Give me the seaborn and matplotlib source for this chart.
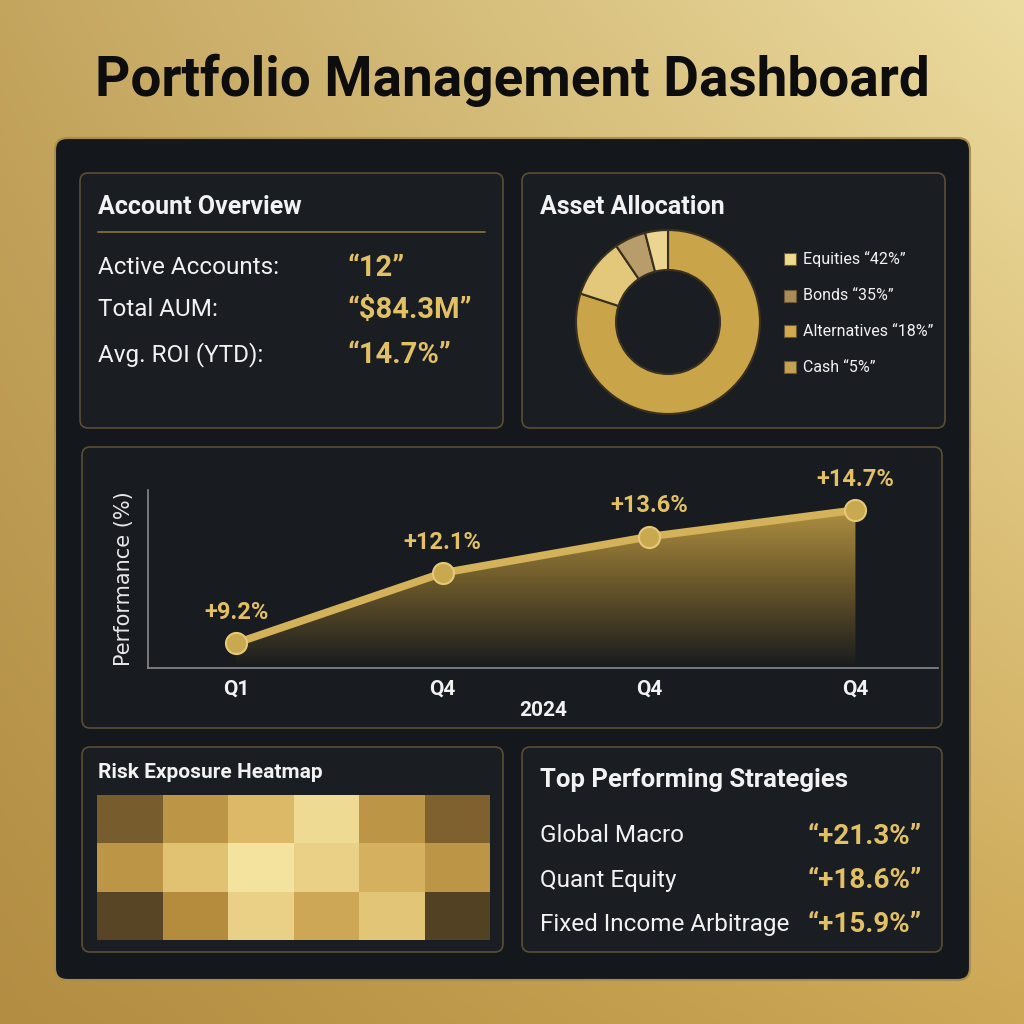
import numpy as np
import pandas as pd
import seaborn as sns
import matplotlib.pyplot as plt
from matplotlib.patches import FancyBboxPatch, Rectangle
from matplotlib.colors import LinearSegmentedColormap

# Daten
quarters = ['Q1', 'Q4', 'Q4', 'Q4']
performance = [9.2, 12.1, 13.6, 14.7]
perf_labels = ['+9.2%', '+12.1%', '+13.6%', '+14.7%']

overview_labels = ['Active Accounts:', 'Total AUM:', 'Avg. ROI (YTD):']
overview_values = ['\u201c12\u201d', '\u201c$84.3M\u201d', '\u201c14.7%\u201d']

alloc_names = ['Equities \u201c42%\u201d', 'Bonds \u201c35%\u201d', 'Alternatives \u201c18%\u201d', 'Cash \u201c5%\u201d']
alloc_colors = ['#f0da8c', '#a98c5c', '#d3aa4f', '#c7a153']
# Ringsegmente wie im Bild (im Uhrzeigersinn ab 12 Uhr)
ring_sizes = [80, 10.5, 5.5, 4]
ring_colors = ['#c9a448', '#e3c77a', '#b89c6a', '#ecd590']

risk = [[0.25, 0.55, 0.75, 0.93, 0.55, 0.28],
        [0.55, 0.80, 0.98, 0.88, 0.70, 0.55],
        [0.12, 0.50, 0.88, 0.65, 0.82, 0.10]]

strategies = ['Global Macro', 'Quant Equity', 'Fixed Income Arbitrage']
strategy_returns = ['\u201c+21.3%\u201d', '\u201c+18.6%\u201d', '\u201c+15.9%\u201d']

sns.set_theme(style='dark')
plt.rcParams['font.family'] = ['Roboto', 'DejaVu Sans']

GOLD = '#e2c064'
WHITE = '#f2f2f2'


def fx(x):
    return x / 1024


def fy(y):
    return 1 - y / 1024


fig = plt.figure(figsize=(10.24, 10.24), dpi=100)

# Goldener Hintergrund
bg = fig.add_axes([0, 0, 1, 1], zorder=-10)
tl = np.array([196, 165, 94]) / 255
tr = np.array([236, 220, 160]) / 255
bl = np.array([178, 141, 66]) / 255
br = np.array([205, 168, 86]) / 255
u = np.linspace(0, 1, 256)
U, V = np.meshgrid(u, u)
img = (tl[None, None] * ((1 - U) * (1 - V))[..., None] + tr[None, None] * (U * (1 - V))[..., None]
       + bl[None, None] * ((1 - U) * V)[..., None] + br[None, None] * (U * V)[..., None])
bg.imshow(img, extent=[0, 1, 0, 1], aspect='auto', origin='upper')
bg.set_xlim(0, 1)
bg.set_ylim(0, 1)
bg.axis('off')

fig.text(0.5, fy(80), 'Portfolio Management Dashboard', ha='center', va='center',
         fontsize=39.5, fontweight='bold', color='#0d0d0d')


def panel(x0, y0, x1, y1, face, edge, lw, rad=0.012):
    p = FancyBboxPatch((fx(x0), fy(y1)), fx(x1 - x0), fx(y1 - y0),
                       boxstyle=f'round,pad=0,rounding_size={rad}',
                       transform=fig.transFigure, facecolor=face, edgecolor=edge,
                       linewidth=lw, zorder=-5)
    fig.patches.append(p)


panel(55, 138, 970, 980, '#14171b', '#a88d4c', 1.5)
panel(80, 173, 503, 428, '#1a1d21', '#5a4e34', 1.2, 0.008)
panel(522, 173, 945, 428, '#1a1d21', '#5a4e34', 1.2, 0.008)
panel(82, 447, 942, 728, '#181b1f', '#5a4e34', 1.2, 0.008)
panel(82, 747, 503, 952, '#1a1d21', '#5a4e34', 1.2, 0.008)
panel(522, 747, 942, 952, '#1a1d21', '#5a4e34', 1.2, 0.008)

# Account Overview
fig.text(fx(98), fy(207), 'Account Overview', fontsize=18, fontweight='bold', color=WHITE, va='center')
fig.lines.append(plt.Line2D([fx(98), fx(485)], [fy(232), fy(232)], transform=fig.transFigure,
                            color='#8c7440', linewidth=1.2))
for i, (lab, val) in enumerate(zip(overview_labels, overview_values)):
    y = [268, 310, 355][i]
    fig.text(fx(98), fy(y), lab, fontsize=17.5, color=WHITE, va='center')
    fig.text(fx(347), fy(y), val, fontsize=21, fontweight='bold', color=GOLD, va='center')

# Asset Allocation
fig.text(fx(540), fy(207), 'Asset Allocation', fontsize=18, fontweight='bold', color=WHITE, va='center')
ax_pie = fig.add_axes([fx(568), fy(422), fx(200), fx(200)])
ax_pie.pie(ring_sizes, colors=ring_colors, startangle=90, counterclock=False, radius=0.92,
           wedgeprops=dict(width=0.40, edgecolor='#3a3020', linewidth=1.5))
ax_pie.set_xlim(-1, 1)
ax_pie.set_ylim(-1, 1)
ax_pie.axis('off')
for i, (name, col) in enumerate(zip(alloc_names, alloc_colors)):
    y = [259, 296, 331, 367][i]
    fig.patches.append(Rectangle((fx(784), fy(y) - fx(6)), fx(12), fx(12), transform=fig.transFigure,
                                 facecolor=col, edgecolor='#6b5a34', linewidth=0.8))
    fig.text(fx(803), fy(y), name, fontsize=11.5, color=WHITE, va='center')

# Performance Linie
ax = fig.add_axes([fx(148), fy(668), fx(938 - 148), fx(668 - 490)])
df = pd.DataFrame({'idx': range(len(performance)), 'perf': performance})
ax.set_facecolor('none')
ymin, ymax = 8.17, 15.53
fill = ax.fill_between(df['idx'], df['perf'], ymin, color='none')
grad = np.linspace(0, 1, 256)[:, None]
cmap_fill = LinearSegmentedColormap.from_list('f', ['#181b1f', '#6e5a2a', '#c09c45'])
gimg = ax.imshow(grad, extent=[0, 3, ymin, 14.7], origin='lower', aspect='auto', cmap=cmap_fill,
                 alpha=0.9, zorder=1)
gimg.set_clip_path(fill.get_paths()[0], transform=ax.transData)
sns.lineplot(data=df, x='idx', y='perf', ax=ax, color='#d4b25a', linewidth=5.5, zorder=3)
ax.scatter(df['idx'], df['perf'], s=230, color='#c9a94f', edgecolor='#e6c876', linewidth=1.5, zorder=4)
for i, (v, lab) in enumerate(zip(performance, perf_labels)):
    ax.annotate(lab, (i, v), xytext=(0, 14), textcoords='offset points', ha='center', va='bottom',
                fontsize=17, fontweight='bold', color=GOLD, clip_on=False, zorder=5)
ax.set_xlim(-0.427, 3.40)
ax.set_ylim(ymin, ymax)
ax.set_xticks(range(len(quarters)))
ax.set_xticklabels(quarters, fontsize=15, fontweight='bold', color=WHITE)
ax.set_yticks([])
ax.tick_params(axis='x', length=0, pad=8)
ax.set_xlabel('2024', fontsize=15, fontweight='bold', color=WHITE, labelpad=2)
ax.set_ylabel('Performance (%)', fontsize=15, color='#e8e8e8', labelpad=10,
              family=['DejaVu Sans'])
ax.grid(False)
for s in ['top', 'right']:
    ax.spines[s].set_visible(False)
for s in ['left', 'bottom']:
    ax.spines[s].set_visible(True)
    ax.spines[s].set_color('#8a8a8a')
    ax.spines[s].set_linewidth(1.2)

# Risk Heatmap
fig.text(fx(98), fy(773), 'Risk Exposure Heatmap', fontsize=15, fontweight='bold', color=WHITE, va='center')
ax_h = fig.add_axes([fx(97), fy(940), fx(393), fx(145)])
cmap_risk = LinearSegmentedColormap.from_list('risk', ['#3c301e', '#775c2d', '#b58c3e', '#dcb866', '#f6e6a4'])
sns.heatmap(pd.DataFrame(risk), ax=ax_h, cmap=cmap_risk, vmin=0, vmax=1, cbar=False,
            xticklabels=False, yticklabels=False)

# Top Strategien
fig.text(fx(540), fy(780), 'Top Performing Strategies', fontsize=18.5, fontweight='bold', color=WHITE, va='center')
for i, (name, ret) in enumerate(zip(strategies, strategy_returns)):
    y = [836, 881, 925][i]
    fig.text(fx(540), fy(y), name, fontsize=17.5, color=WHITE, va='center')
    fig.text(fx(922), fy(y), ret, fontsize=20, fontweight='bold', color=GOLD, va='center', ha='right')

plt.savefig('out.png', dpi=100)
